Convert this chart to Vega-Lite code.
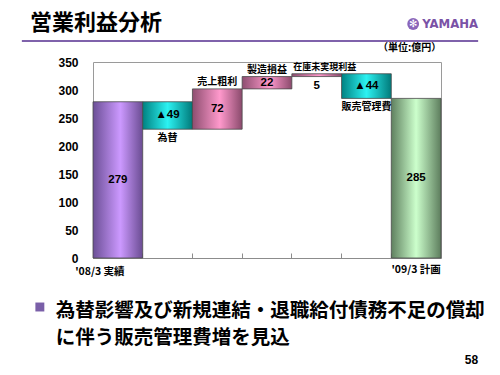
{
  "$schema": "https://vega.github.io/schema/vega-lite/v6.json",
  "width": 348,
  "height": 196,
  "autosize": {"type": "none"},
  "padding": {"left": 93, "top": 62, "right": 59, "bottom": 117},
  "background": "white",
  "title": {
    "text": "営業利益分析",
    "anchor": "start",
    "frame": "group",
    "dx": -63,
    "offset": 0,
    "dy": 27,
    "baseline": "middle",
    "font": "Noto Sans CJK JP",
    "fontSize": 22,
    "fontWeight": "bold",
    "color": "#000000"
  },
  "config": {
    "view": {"stroke": "#9a9a9a", "strokeWidth": 1},
    "font": "Noto Sans CJK JP",
    "text": {"fontWeight": "bold", "color": "#000000"},
    "axisY": {
      "labelOverlap": false,
      "labelFlush": false,
      "labelFont": "Liberation Sans",
      "labelFontSize": 12,
      "labelFontWeight": "bold",
      "labelColor": "#000000",
      "labelPadding": 15,
      "domain": false,
      "ticks": false,
      "grid": false,
      "title": null
    }
  },
  "datasets": {
    "bars": [
      {"cat": "'08/3 実績", "kind": "total", "lo": 0, "hi": 279, "value": "279"},
      {"cat": "為替", "kind": "down", "lo": 230, "hi": 279, "value": "▲49"},
      {"cat": "売上粗利", "kind": "up", "lo": 230, "hi": 302, "value": "72"},
      {"cat": "製造損益", "kind": "up", "lo": 302, "hi": 324, "value": "22"},
      {"cat": "在庫未実現利益", "kind": "up", "lo": 324, "hi": 329, "value": "5"},
      {"cat": "販売管理費", "kind": "down", "lo": 285, "hi": 329, "value": "▲44"},
      {"cat": "'09/3 計画", "kind": "plan", "lo": 0, "hi": 285, "value": "285"}
    ]
  },
  "data": {"name": "bars"},
  "encoding": {
    "x": {
      "field": "cat",
      "type": "nominal",
      "scale": {
        "domain": ["'08/3 実績", "為替", "売上粗利", "製造損益", "在庫未実現利益", "販売管理費", "'09/3 計画"],
        "paddingInner": 0,
        "paddingOuter": 0
      },
      "axis": {
        "labels": false,
        "title": null,
        "domain": true,
        "domainColor": "#8c8c8c",
        "ticks": true,
        "tickSize": -5,
        "tickColor": "#8c8c8c",
        "bandPosition": 0
      }
    }
  },
  "layer": [
    {
      "transform": [{"filter": "datum.kind == 'total'"}],
      "mark": {
        "type": "bar",
        "stroke": "#4a4a4a",
        "strokeWidth": 0.8,
        "color": {"gradient": "linear", "x1": 0, "x2": 1, "y1": 0, "y2": 0,
          "stops": [{"offset": 0, "color": "#6b4f96"}, {"offset": 0.55, "color": "#cc99ff"}, {"offset": 1, "color": "#6a4c92"}]}
      },
      "encoding": {
        "y": {"field": "lo", "type": "quantitative",
          "scale": {"domain": [0, 350], "nice": false, "zero": true},
          "axis": {"values": [0, 50, 100, 150, 200, 250, 300, 350], "labelOverlap": false}},
        "y2": {"field": "hi"}
      }
    },
    {
      "transform": [{"filter": "datum.kind == 'down'"}],
      "mark": {
        "type": "bar",
        "stroke": "#4a4a4a",
        "strokeWidth": 0.8,
        "color": {"gradient": "linear", "x1": 0, "x2": 1, "y1": 0, "y2": 0,
          "stops": [{"offset": 0, "color": "#008282"}, {"offset": 0.5, "color": "#2cf2f2"}, {"offset": 1, "color": "#007a7a"}]}
      },
      "encoding": {"y": {"field": "lo", "type": "quantitative", "axis": {"values": [0, 50, 100, 150, 200, 250, 300, 350], "labelOverlap": false}}, "y2": {"field": "hi"}}
    },
    {
      "transform": [{"filter": "datum.kind == 'up'"}],
      "mark": {
        "type": "bar",
        "stroke": "#4a4a4a",
        "strokeWidth": 0.8,
        "color": {"gradient": "linear", "x1": 0, "x2": 1, "y1": 0, "y2": 0,
          "stops": [{"offset": 0, "color": "#8e4e70"}, {"offset": 0.55, "color": "#ff99cc"}, {"offset": 1, "color": "#8a4a6c"}]}
      },
      "encoding": {"y": {"field": "lo", "type": "quantitative", "axis": {"values": [0, 50, 100, 150, 200, 250, 300, 350], "labelOverlap": false}}, "y2": {"field": "hi"}}
    },
    {
      "transform": [{"filter": "datum.kind == 'plan'"}],
      "mark": {
        "type": "bar",
        "stroke": "#4a4a4a",
        "strokeWidth": 0.8,
        "color": {"gradient": "linear", "x1": 0, "x2": 1, "y1": 0, "y2": 0,
          "stops": [{"offset": 0, "color": "#5f805f"}, {"offset": 0.5, "color": "#ccffcc"}, {"offset": 1, "color": "#5d7d5d"}]}
      },
      "encoding": {"y": {"field": "lo", "type": "quantitative", "axis": {"values": [0, 50, 100, 150, 200, 250, 300, 350], "labelOverlap": false}}, "y2": {"field": "hi"}}
    },
    {
      "transform": [
        {"filter": "datum.cat != '在庫未実現利益'"},
        {"fold": ["lo", "hi"], "as": ["edge", "level"]}
      ],
      "mark": {"type": "text", "font": "'Liberation Sans', 'Noto Sans CJK JP', sans-serif", "fontSize": 11.5, "fontWeight": "bold", "baseline": "middle"},
      "encoding": {
        "y": {"aggregate": "mean", "field": "level", "type": "quantitative", "axis": {"values": [0, 50, 100, 150, 200, 250, 300, 350], "labelOverlap": false}},
        "text": {"field": "value", "type": "nominal"}
      }
    },
    {
      "transform": [{"filter": "datum.cat == '在庫未実現利益'"}],
      "mark": {"type": "text", "font": "'Liberation Sans', sans-serif", "fontSize": 11.5, "fontWeight": "bold", "baseline": "middle", "dy": 9},
      "encoding": {
        "y": {"field": "lo", "type": "quantitative", "axis": {"values": [0, 50, 100, 150, 200, 250, 300, 350], "labelOverlap": false}},
        "text": {"field": "value", "type": "nominal"}
      }
    },
    {
      "transform": [{"filter": "datum.kind == 'up' && datum.cat != '在庫未実現利益'"}],
      "mark": {"type": "text", "fontSize": 10, "fontWeight": "bold", "baseline": "middle", "dy": -7},
      "encoding": {
        "y": {"field": "hi", "type": "quantitative", "axis": {"values": [0, 50, 100, 150, 200, 250, 300, 350], "labelOverlap": false}},
        "text": {"field": "cat", "type": "nominal"}
      }
    },
    {
      "transform": [{"filter": "datum.cat == '在庫未実現利益'"}],
      "mark": {"type": "text", "fontSize": 9, "fontWeight": "bold", "baseline": "middle", "dy": -7, "dx": 8},
      "encoding": {
        "y": {"field": "hi", "type": "quantitative", "axis": {"values": [0, 50, 100, 150, 200, 250, 300, 350], "labelOverlap": false}},
        "text": {"field": "cat", "type": "nominal"}
      }
    },
    {
      "transform": [{"filter": "datum.kind == 'down'"}],
      "mark": {"type": "text", "fontSize": 10, "fontWeight": "bold", "baseline": "middle", "dy": 9},
      "encoding": {
        "y": {"field": "lo", "type": "quantitative", "axis": {"values": [0, 50, 100, 150, 200, 250, 300, 350], "labelOverlap": false}},
        "text": {"field": "cat", "type": "nominal"}
      }
    },
    {
      "transform": [{"filter": "datum.kind == 'total'"}],
      "mark": {"type": "text", "fontSize": 10.5, "fontWeight": "bold", "baseline": "middle", "dy": 14, "dx": -18},
      "encoding": {
        "y": {"datum": 0, "axis": {"values": [0, 50, 100, 150, 200, 250, 300, 350], "labelOverlap": false}},
        "text": {"field": "cat", "type": "nominal"}
      }
    },
    {
      "transform": [{"filter": "datum.kind == 'plan'"}],
      "mark": {"type": "text", "fontSize": 10.5, "fontWeight": "bold", "baseline": "middle", "dy": 12},
      "encoding": {
        "y": {"datum": 0, "axis": {"values": [0, 50, 100, 150, 200, 250, 300, 350], "labelOverlap": false}},
        "text": {"field": "cat", "type": "nominal"}
      }
    },
    {
      "data": {"values": [{}]},
      "mark": {"type": "text", "text": "（単位:億円）", "fontSize": 10, "fontWeight": "bold", "align": "right", "baseline": "middle", "dx": 25, "dy": -14},
      "encoding": {"x": {"datum": "'09/3 計画"}, "y": {"datum": 350, "axis": {"values": [0, 50, 100, 150, 200, 250, 300, 350], "labelOverlap": false}}}
    },
    {
      "data": {"values": [{}]},
      "mark": {"type": "rule", "color": "#7f62ab", "strokeWidth": 2, "xOffset": -96, "x2Offset": 62, "yOffset": -21},
      "encoding": {"x": {"datum": "'08/3 実績"}, "x2": {"datum": "'09/3 計画"}, "y": {"datum": 350, "axis": {"values": [0, 50, 100, 150, 200, 250, 300, 350], "labelOverlap": false}}}
    },
    {
      "data": {"values": [{}]},
      "mark": {"type": "text", "text": "YAMAHA", "font": "DejaVu Sans Condensed", "fontSize": 13, "fontWeight": "bold", "color": "#7a52a6", "align": "right", "baseline": "middle", "dx": 62, "dy": -38},
      "encoding": {"x": {"datum": "'09/3 計画"}, "y": {"datum": 350, "axis": {"values": [0, 50, 100, 150, 200, 250, 300, 350], "labelOverlap": false}}}
    },
    {
      "data": {"values": [{}]},
      "mark": {"type": "point", "shape": "circle", "filled": true, "size": 140, "color": "#8a66ba", "opacity": 1, "xOffset": -3, "yOffset": -38},
      "encoding": {"x": {"datum": "'09/3 計画"}, "y": {"datum": 350, "axis": {"values": [0, 50, 100, 150, 200, 250, 300, 350], "labelOverlap": false}}}
    },
    {
      "data": {"values": [{}]},
      "mark": {"type": "text", "text": "✻", "font": "DejaVu Sans", "fontSize": 10, "color": "#ffffff", "align": "center", "baseline": "middle", "dx": -3, "dy": -38},
      "encoding": {"x": {"datum": "'09/3 計画"}, "y": {"datum": 350, "axis": {"values": [0, 50, 100, 150, 200, 250, 300, 350], "labelOverlap": false}}}
    },
    {
      "data": {"values": [{}]},
      "mark": {"type": "point", "shape": "square", "filled": true, "size": 80, "color": "#7a5fa8", "opacity": 1, "xOffset": -78, "yOffset": 49},
      "encoding": {"x": {"datum": "'08/3 実績"}, "y": {"datum": 0, "axis": {"values": [0, 50, 100, 150, 200, 250, 300, 350], "labelOverlap": false}}}
    },
    {
      "data": {"values": [{}]},
      "mark": {"type": "text", "text": "為替影響及び新規連結・退職給付債務不足の償却", "fontSize": 19.5, "fontWeight": "bold", "align": "left", "baseline": "middle", "dx": -62, "dy": 53},
      "encoding": {"x": {"datum": "'08/3 実績"}, "y": {"datum": 0, "axis": {"values": [0, 50, 100, 150, 200, 250, 300, 350], "labelOverlap": false}}}
    },
    {
      "data": {"values": [{}]},
      "mark": {"type": "text", "text": "に伴う販売管理費増を見込", "fontSize": 19.5, "fontWeight": "bold", "align": "left", "baseline": "middle", "dx": -62, "dy": 80},
      "encoding": {"x": {"datum": "'08/3 実績"}, "y": {"datum": 0, "axis": {"values": [0, 50, 100, 150, 200, 250, 300, 350], "labelOverlap": false}}}
    },
    {
      "data": {"values": [{}]},
      "mark": {"type": "text", "text": "58", "font": "Liberation Sans", "fontSize": 12, "fontWeight": "bold", "align": "right", "baseline": "middle", "dx": 62, "dy": 102},
      "encoding": {"x": {"datum": "'09/3 計画"}, "y": {"datum": 0, "axis": {"values": [0, 50, 100, 150, 200, 250, 300, 350], "labelOverlap": false}}}
    }
  ]
}
